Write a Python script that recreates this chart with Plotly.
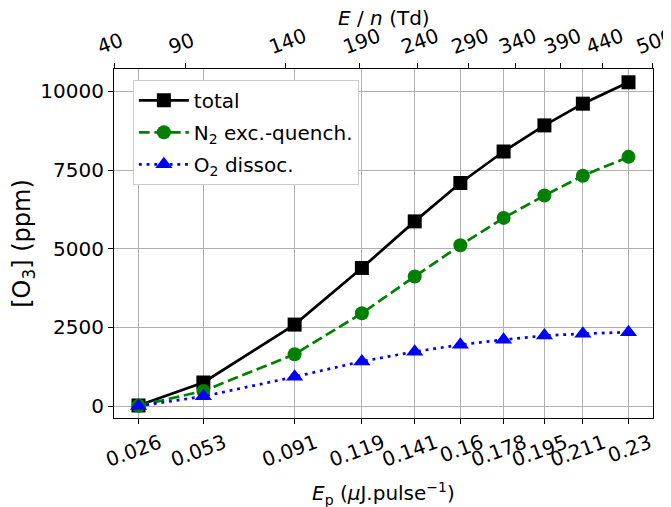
import plotly.graph_objects as go

# Data
ep = [0.026, 0.053, 0.091, 0.119, 0.141, 0.16, 0.178, 0.195, 0.211, 0.23]
ep_labels = ["0.026", "0.053", "0.091", "0.119", "0.141", "0.16", "0.178", "0.195", "0.211", "0.23"]
en_labels = ["40", "90", "140", "190", "240", "290", "340", "390", "440", "500"]
total = [20, 750, 2590, 4390, 5870, 7090, 8090, 8920, 9610, 10290]
n2_quench = [10, 480, 1650, 2950, 4120, 5110, 5980, 6690, 7320, 7920]
o2_dissoc = [0, 310, 930, 1420, 1730, 1950, 2110, 2240, 2300, 2350]
y_ticks = [0, 2500, 5000, 7500, 10000]
y_tick_labels = ["0", "2500", "5000", "7500", "10000"]

fig = go.Figure()
fig.add_trace(go.Scatter(
    x=ep, y=total, mode="lines+markers", name="total", legendgroup="a",
    line=dict(color="black", width=2.7),
    marker=dict(symbol="square", size=14, color="black")))
fig.add_trace(go.Scatter(
    x=ep, y=n2_quench, mode="lines+markers", name="N<sub>2</sub> exc.-quench.", legendgroup="b",
    line=dict(color="green", width=2.7, dash="10.8px,4.7px"),
    marker=dict(symbol="circle", size=14, color="green")))
fig.add_trace(go.Scatter(
    x=ep, y=o2_dissoc, mode="lines+markers", name="O<sub>2</sub> dissoc.", legendgroup="c",
    line=dict(color="blue", width=2.7, dash="2.9px,4.8px"),
    marker=dict(symbol="triangle-up", size=15, color="blue")))
# invisible trace to anchor the top axis
fig.add_trace(go.Scatter(
    x=ep, y=total, xaxis="x2", yaxis="y", mode="markers",
    marker=dict(opacity=0), showlegend=False, hoverinfo="skip"))

axis_common = dict(
    ticks="outside", ticklen=5, tickwidth=1.2, tickcolor="black",
    showline=True, linecolor="black", linewidth=1.2, zeroline=False,
    automargin=False,
)

title_font = dict(family="DejaVu Sans", size=20, color="black")

fig.update_layout(
    width=663, height=499,
    margin=dict(l=106, r=18, t=61, b=89),
    plot_bgcolor="white", paper_bgcolor="white",
    font=dict(family="DejaVu Sans", size=20, color="black"),
    xaxis=dict(
        range=[0.0158, 0.2402], tickmode="array", tickvals=ep, ticktext=ep_labels,
        tickangle=-20, ticklabelshift=21,
        showgrid=True, gridcolor="#b0b0b0", gridwidth=1.1,
        **axis_common),
    xaxis2=dict(
        overlaying="x", side="top", anchor="y",
        range=[0.02599, 0.23001], tickmode="array", tickvals=ep, ticktext=en_labels,
        tickangle=-20, ticklabelshift=-17, ticklabeloverflow="allow", showgrid=False,
        **axis_common),
    yaxis=dict(
        range=[-378, 10712], tickmode="array", tickvals=y_ticks, ticktext=y_tick_labels,
        showgrid=True, gridcolor="#b0b0b0", gridwidth=1.1, mirror=True,
        title=dict(text="[O<sub>3</sub>] (ppm)", standoff=8),
        **axis_common),
    legend=dict(
        x=0.035, y=0.969, xanchor="left", yanchor="top",
        bgcolor="white", bordercolor="#cccccc", borderwidth=1,
        tracegroupgap=3, itemwidth=50, font=dict(size=20)),
    annotations=[
        dict(text="<i>E</i><sub>p</sub> (<i>μ</i>J.pulse<sup>−1</sup>)",
             xref="paper", yref="paper", x=0.5, y=-0.215,
             xanchor="center", yanchor="middle", showarrow=False, font=title_font),
        dict(text="<i>E</i> / <i>n</i> (Td)",
             xref="paper", yref="paper", x=0.5, y=1.145,
             xanchor="center", yanchor="middle", showarrow=False, font=title_font),
    ],
)

fig.write_html("out.html")
